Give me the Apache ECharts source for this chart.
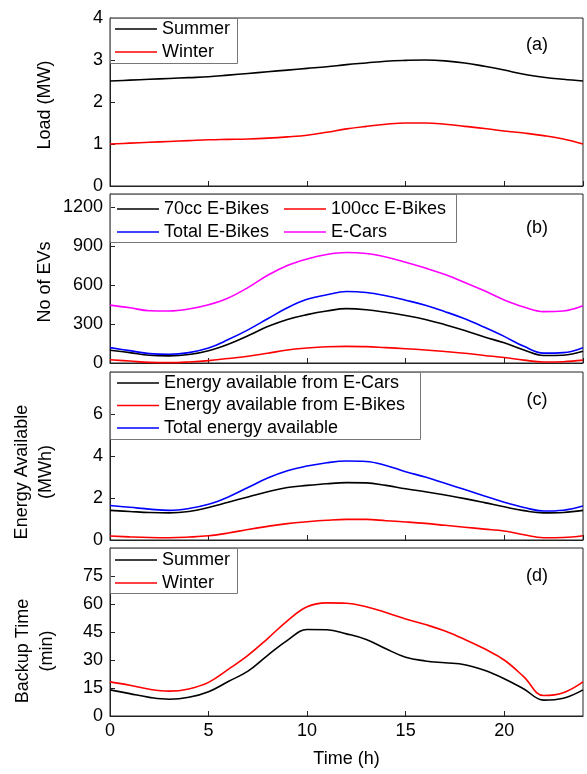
<!DOCTYPE html>
<html><head><meta charset="utf-8">
<script src="https://cdn.jsdelivr.net/npm/echarts@6/dist/echarts.min.js"></script>
<style>html,body{margin:0;padding:0;background:#fff}#c{width:587px;height:774px}</style>
</head><body><div id="c"></div><script>
const hours = [0,1,2,3,4,5,6,7,8,9,10,11,12,13,14,15,16,17,18,19,20,21,22,23,24];
// (a) Load (MW)
const loadSummer = [2.50,2.52,2.54,2.56,2.58,2.60,2.64,2.68,2.72,2.76,2.80,2.84,2.89,2.93,2.97,2.99,3.00,2.98,2.93,2.85,2.76,2.66,2.59,2.54,2.50];
const loadWinter = [1.00,1.02,1.04,1.06,1.08,1.10,1.11,1.12,1.14,1.17,1.21,1.28,1.36,1.42,1.47,1.50,1.50,1.47,1.42,1.37,1.31,1.26,1.20,1.12,1.00];
// (b) No of EVs
const bikes70 = [98,80,60,55,65,95,145,210,280,335,372,400,418,410,390,365,335,295,250,200,155,100,58,60,90];
const bikes100 = [25,15,5,3,8,18,35,52,75,100,115,125,128,126,118,110,100,88,75,58,42,22,8,10,22];
const bikesTotal = [118,95,72,67,80,115,180,255,340,425,490,525,550,542,517,483,445,395,340,275,205,128,76,80,118];
const eCars = [445,425,402,400,415,448,500,580,675,750,800,835,850,842,815,775,730,680,620,555,485,430,395,400,440];
// (c) Energy available (MWh)
const energyCars = [1.41,1.36,1.31,1.29,1.36,1.55,1.80,2.05,2.30,2.50,2.60,2.68,2.73,2.72,2.60,2.44,2.30,2.14,1.97,1.78,1.58,1.40,1.29,1.31,1.41];
const energyBikes = [0.19,0.15,0.12,0.11,0.14,0.20,0.33,0.50,0.65,0.78,0.87,0.94,0.98,0.98,0.92,0.86,0.79,0.70,0.61,0.52,0.43,0.25,0.11,0.12,0.20];
const energyTotal = [1.64,1.56,1.47,1.41,1.50,1.70,2.05,2.50,2.95,3.30,3.52,3.68,3.76,3.74,3.55,3.25,3.00,2.70,2.40,2.10,1.80,1.55,1.38,1.42,1.62];
// (d) Backup time (min)
const backupSummer = [14,12,10,9,10,13,18.5,24,32.5,40.5,46.3,46.2,44,41,36,31.5,29.5,28.5,27.5,24.5,20,14.5,8.5,9.5,14];
const backupWinter = [18.3,16.5,14.3,13.3,14.5,18,25,32.5,41.5,51,58.5,60.6,60.4,58.5,55.5,52,49,45.5,41,36,30,21,11,12.5,18.3];

const xMax = 24, xInterval = 5;
const yRanges = [
  {max: 4, interval: 1},
  {max: 1300, interval: 300},
  {max: 8, interval: 2},
  {max: 90, interval: 15}
];
const yTitles = ['Load (MW)', 'No of EVs', 'Energy Available\n(MWh)', 'Backup Time\n(min)'];
const panelTags = ['(a)', '(b)', '(c)', '(d)'];
const xTitle = 'Time (h)';

const FONT = "'Liberation Sans', Arial, sans-serif";
const gridTops = [18, 194, 372, 548];
const gridHeights = [168, 169, 168, 168];

const chart = echarts.init(document.getElementById('c'));
const pairs = arr => hours.map((h, i) => [h, arr[i]]);

const grids = gridTops.map((t, i) => ({
  left: 110, right: 4, top: t, height: gridHeights[i],
  show: true, borderColor: '#222', borderWidth: 1, backgroundColor: 'transparent'
}));

const xAxes = gridTops.map((t, i) => ({
  type: 'value', gridIndex: i, min: 0, max: xMax, interval: xInterval,
  axisLine: {show: true, lineStyle: {color: '#222', width: 1}},
  axisTick: {show: true, inside: true, length: 5, lineStyle: {color: '#222'}},
  axisLabel: {show: i === 3, showMaxLabel: false, color: '#000', fontSize: 18, fontFamily: FONT, margin: 6,
    formatter: v => String(v)},
  splitLine: {show: false},
  name: i === 3 ? xTitle : '',
  nameLocation: 'middle', nameGap: 34,
  nameTextStyle: {color: '#000', fontSize: 18, fontFamily: FONT}
}));

const yAxes = yRanges.map((r, i) => ({
  type: 'value', gridIndex: i, min: 0, max: r.max, interval: r.interval,
  axisLine: {show: true, lineStyle: {color: '#222', width: 1}},
  axisTick: {show: true, inside: true, length: 5, lineStyle: {color: '#222'}},
  axisLabel: {color: '#000', fontSize: 18, fontFamily: FONT, margin: 7, showMaxLabel: i === 0,
    formatter: v => String(v)},
  splitLine: {show: false}
}));

function line(name, data, color, idx) {
  return {
    type: 'line', name, data: pairs(data), xAxisIndex: idx, yAxisIndex: idx,
    showSymbol: false, symbol: 'none', smooth: 0.4,
    lineStyle: {color, width: 1.6}, itemStyle: {color}
  };
}

const series = [
  line('Summer', loadSummer, '#000000', 0),
  line('Winter', loadWinter, '#ff0000', 0),
  line('70cc E-Bikes', bikes70, '#000000', 1),
  line('100cc E-Bikes', bikes100, '#ff0000', 1),
  line('Total E-Bikes', bikesTotal, '#0000ff', 1),
  line('E-Cars', eCars, '#ff00ff', 1),
  line('Energy available from E-Cars', energyCars, '#000000', 2),
  line('Energy available from E-Bikes', energyBikes, '#ff0000', 2),
  line('Total energy available', energyTotal, '#0000ff', 2),
  line('Summer ', backupSummer, '#000000', 3),
  line('Winter ', backupWinter, '#ff0000', 3)
];

function legend(data, left, top, gap) {
  return {
    data, left, top, orient: 'vertical', icon: 'rect', itemWidth: 42, itemHeight: 1.6, itemGap: gap,
    selectedMode: false, padding: 0,
    textStyle: {color: '#000', fontSize: 18, fontFamily: FONT, lineHeight: 18},
    formatter: n => n.trim()
  };
}

const legends = [
  legend(['Summer', 'Winter'], 115, 20, 5),
  legend(['70cc E-Bikes', 'Total E-Bikes'], 117, 200, 5),
  legend(['100cc E-Bikes', 'E-Cars'], 284, 200, 5),
  legend(['Energy available from E-Cars', 'Energy available from E-Bikes', 'Total energy available'], 117, 374, 4.5),
  legend(['Summer ', 'Winter '], 115, 551, 5)
];

const legendBoxes = [
  [110, 18, 127, 45],
  [110, 194, 346, 48],
  [110, 372, 310, 67],
  [110, 548, 127, 45]
];

const graphic = [];
legendBoxes.forEach(b => graphic.push({
  type: 'rect', z: 1, silent: true,
  shape: {x: b[0] + 0.5, y: b[1] + 0.5, width: b[2], height: b[3]},
  style: {fill: 'none', stroke: '#777', lineWidth: 1}
}));
const titleX = [45, 45, 34, 35];
const titleY = [105, 282, 472, 651];
yTitles.forEach((t, i) => graphic.push({
  type: 'text', x: titleX[i], y: titleY[i], rotation: Math.PI / 2,
  style: {text: t, fill: '#000', fontSize: 18, fontFamily: FONT, align: 'center', verticalAlign: 'middle', lineHeight: 24}
}));
const tagY = [45, 228, 400, 576];
panelTags.forEach((t, i) => graphic.push({
  type: 'text', x: 537, y: tagY[i],
  style: {text: t, fill: '#000', fontSize: 18, fontFamily: FONT, align: 'center', verticalAlign: 'middle'}
}));

chart.setOption({
  animation: false,
  backgroundColor: '#fff',
  grid: grids, xAxis: xAxes, yAxis: yAxes, series, legend: legends, graphic
});
</script></body></html>
